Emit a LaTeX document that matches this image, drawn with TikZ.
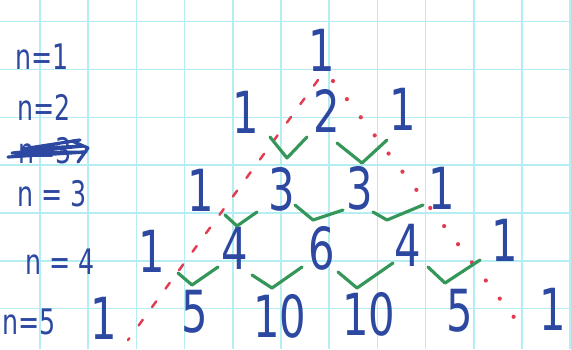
\documentclass[tikz,border=0pt]{standalone}
\usepackage{fontspec}
\newfontfamily\hand[FakeStretch=0.72]{DejaVu Sans}
\definecolor{inkblue}{RGB}{44,72,160}
\definecolor{inkgreen}{RGB}{52,150,88}
\definecolor{inkred}{RGB}{226,60,80}
\definecolor{gridcyan}{RGB}{180,238,242}
\tikzset{
  num/.style={inner sep=0pt,text=inkblue,font=\hand\fontsize{33}{35}\selectfont},
  lab/.style={inner sep=0pt,text=inkblue,font=\hand\fontsize{20}{22}\selectfont},
  tick/.style={draw=inkgreen,line width=1.8pt,line cap=round,line join=round},
  grid/.style={draw=gridcyan,line width=.9pt}
}
\begin{document}
\begin{tikzpicture}[x=.2mm,y=-.2mm]
  \useasboundingbox[fill=white] (0,0) rectangle (571,349);
  % squared paper
  \foreach \gx in {0,...,11}
    \draw[grid] ({40+48.2*\gx},0) -- ({40+48.2*\gx},349);
  \foreach \gy in {0,...,6}
    \draw[grid] (0,{21.7+47.8*\gy}) -- (571,{21.7+47.8*\gy});
  % row labels
  \node[lab] (n1) at (42,57) {n=1};
  \node[lab] (n2) at (44,107) {n=2};
  \node[lab] (n3x) at (45,151) {n=3};
  \draw[inkblue,line width=1.8pt,line cap=round,line join=round]
    (8,157) -- (86,152) -- (12,153) -- (84,146) -- (22,149) -- (80,140)
    -- (72,141) -- (88,148) -- (78,162);
  \node[lab] (n3) at (52,194) {n = 3};
  \node[lab] (n4) at (60,262) {n = 4};
  \node[lab] (n5) at (29,322) {n=5};
  % the triangle
  \node[num] (a1) at (322,50) {1};
  \node[num] (b1) at (246,112) {1};
  \node[num] (b2) at (327,111) {2};
  \node[num] (b3) at (403,109) {1};
  \node[num] (c1) at (201,190) {1};
  \node[num] (c2) at (282,189) {3};
  \node[num] (c3) at (360,188) {3};
  \node[num] (c4) at (442,188) {1};
  \node[num] (d1) at (152,251) {1};
  \node[num] (d2) at (235,248) {4};
  \node[num] (d3) at (322,248) {6};
  \node[num] (d4) at (408,245) {4};
  \node[num] (d5) at (505,240) {1};
  \node[num] (e1) at (104,318) {1};
  \node[num] (e2) at (195,312) {5};
  \node[num] (e3) at (280,316) {10};
  \node[num] (e4) at (369,314) {10};
  \node[num] (e5) at (460,311) {5};
  \node[num] (e6) at (553,309) {1};
  % red edges
  \coordinate (lt) at (318,80);
  \coordinate (lb) at (128,340);
  \coordinate (rt) at (333,81);
  \coordinate (rb) at (523,329);
  \draw[inkred,line width=1.4pt,line cap=round,dash pattern=on 4pt off 9pt] (lt) -- (lb);
  \draw[inkred,line width=2.4pt,line cap=round,dash pattern=on 0pt off 13pt] (rt) -- (rb);
  % green ticks
  \draw[tick] (270,137) -- (287,158) -- (307,137);
  \draw[tick] (337,143) -- (362,163) -- (387,140);
  \draw[tick] (225,215) -- (237,226) -- (257,212);
  \draw[tick] (295,205) -- (313,220) -- (343,210);
  \draw[tick] (373,212) -- (387,220) -- (423,205);
  \draw[tick] (178,273) -- (192,285) -- (218,267);
  \draw[tick] (252,275) -- (272,288) -- (302,267);
  \draw[tick] (338,272) -- (357,288) -- (393,263);
  \draw[tick] (428,267) -- (445,283) -- (480,260);
\end{tikzpicture}
\end{document}
